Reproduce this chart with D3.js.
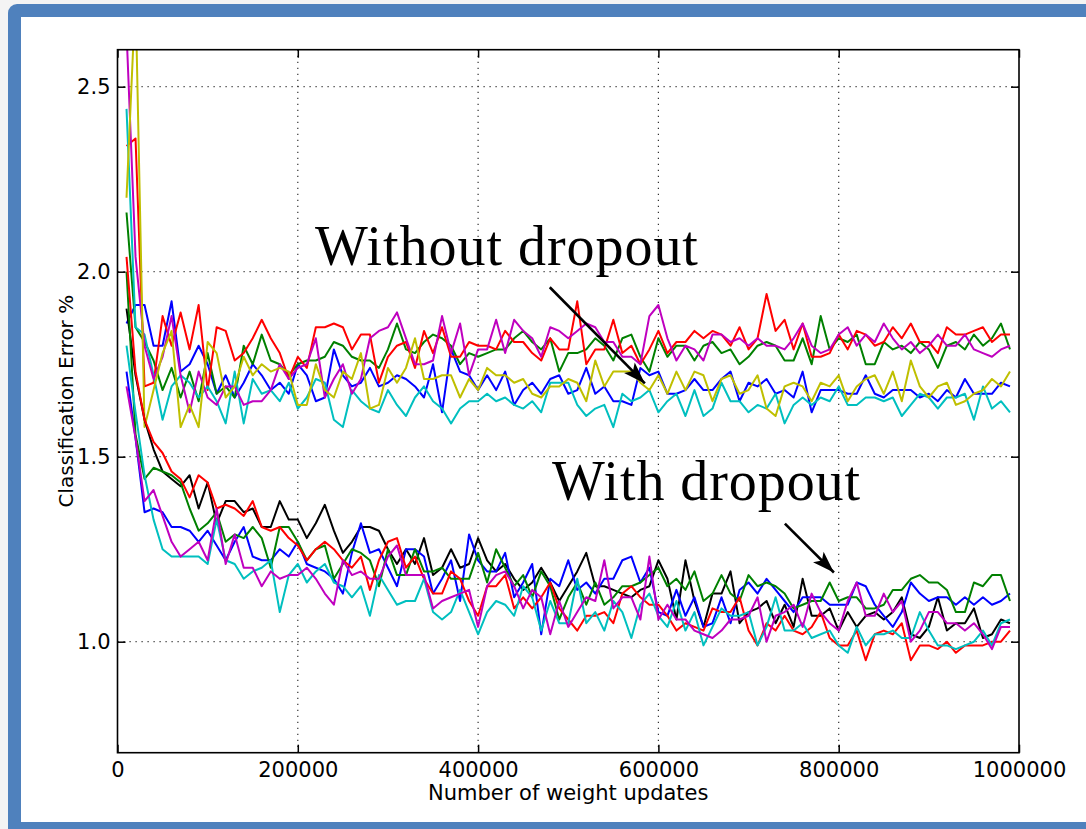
<!DOCTYPE html>
<html>
<head>
<meta charset="utf-8">
<script src="https://cdn.jsdelivr.net/npm/d3@7"></script>
<style>
  body { margin: 0; background: #f4f4f4; }
  svg { display: block; }
</style>
</head>
<body>
<svg id="chart" width="1086" height="829"></svg>
<script>
// error curves, one value every 10000 weight updates (10000 .. 990000)
const step = 10000;
const xTicks = [0, 200000, 400000, 600000, 800000, 1000000];
const yTicks = [1.0, 1.5, 2.0, 2.5];

// without dropout
const blueA = [1.86,1.91,1.91,1.80,1.80,1.92,1.73,1.75,1.80,1.75,
  1.67,1.72,1.66,1.70,1.75,1.72,1.68,1.70,1.67,1.75,
  1.72,1.65,1.66,1.79,1.72,1.69,1.70,1.74,1.69,1.70,
  1.72,1.71,1.69,1.66,1.75,1.62,1.79,1.73,1.72,1.68,
  1.72,1.68,1.73,1.64,1.68,1.70,1.67,1.71,1.72,1.67,
  1.68,1.74,1.67,1.69,1.65,1.65,1.64,1.74,1.72,1.73,
  1.67,1.67,1.68,1.71,1.68,1.68,1.71,1.73,1.65,1.70,
  1.69,1.71,1.67,1.68,1.66,1.73,1.62,1.68,1.68,1.68,
  1.67,1.67,1.72,1.67,1.66,1.68,1.68,1.68,1.66,1.67,
  1.65,1.68,1.66,1.71,1.67,1.67,1.67,1.70,1.69];
const greenA = [2.16,1.85,1.81,1.76,1.68,1.74,1.66,1.73,1.65,1.78,
  1.67,1.69,1.66,1.80,1.75,1.83,1.76,1.75,1.72,1.75,
  1.76,1.76,1.77,1.81,1.80,1.77,1.76,1.76,1.74,1.79,
  1.86,1.79,1.78,1.81,1.83,1.82,1.80,1.75,1.78,1.77,
  1.78,1.79,1.79,1.82,1.84,1.81,1.79,1.82,1.73,1.78,
  1.78,1.79,1.82,1.80,1.76,1.82,1.83,1.77,1.73,1.82,
  1.77,1.80,1.80,1.76,1.80,1.81,1.78,1.79,1.75,1.77,
  1.80,1.81,1.80,1.76,1.76,1.82,1.75,1.88,1.79,1.82,
  1.81,1.83,1.75,1.75,1.81,1.79,1.80,1.78,1.81,1.79,
  1.74,1.80,1.81,1.79,1.83,1.80,1.82,1.86,1.79];
const redA = [2.34,2.36,1.69,1.70,1.88,1.80,1.89,1.79,1.91,1.68,
  1.85,1.84,1.76,1.78,1.82,1.87,1.82,1.78,1.71,1.77,
  1.74,1.85,1.85,1.86,1.85,1.79,1.83,1.83,1.70,1.77,
  1.80,1.81,1.74,1.84,1.78,1.85,1.77,1.77,1.81,1.80,
  1.80,1.79,1.84,1.81,1.81,1.78,1.76,1.82,1.79,1.79,
  1.92,1.75,1.79,1.79,1.87,1.78,1.80,1.75,1.79,1.84,
  1.78,1.81,1.81,1.84,1.82,1.84,1.83,1.80,1.85,1.79,
  1.82,1.94,1.84,1.87,1.79,1.86,1.77,1.77,1.78,1.83,
  1.79,1.84,1.83,1.80,1.81,1.85,1.82,1.86,1.81,1.81,
  1.78,1.85,1.83,1.83,1.84,1.85,1.81,1.83,1.83];
const cyanA = [2.44,1.85,1.83,1.72,1.60,1.69,1.72,1.70,1.66,1.69,
  1.65,1.59,1.73,1.59,1.71,1.67,1.68,1.65,1.70,1.63,
  1.66,1.71,1.70,1.60,1.58,1.68,1.65,1.63,1.62,1.68,
  1.64,1.61,1.66,1.69,1.65,1.63,1.59,1.63,1.65,1.65,
  1.67,1.65,1.66,1.64,1.63,1.65,1.62,1.70,1.70,1.70,
  1.64,1.61,1.63,1.64,1.58,1.67,1.65,1.66,1.68,1.62,
  1.65,1.67,1.61,1.68,1.61,1.63,1.70,1.65,1.65,1.62,
  1.64,1.63,1.67,1.59,1.64,1.66,1.64,1.66,1.65,1.69,
  1.64,1.64,1.66,1.66,1.65,1.66,1.61,1.64,1.67,1.66,
  1.63,1.66,1.66,1.67,1.60,1.69,1.63,1.65,1.62];
const magentaA = [2.65,2.04,1.80,1.71,1.77,1.88,1.72,1.62,1.73,1.66,
  1.64,1.69,1.69,1.64,1.65,1.65,1.68,1.75,1.71,1.74,
  1.75,1.82,1.66,1.71,1.75,1.67,1.71,1.82,1.84,1.85,
  1.89,1.82,1.75,1.75,1.76,1.88,1.78,1.86,1.72,1.79,
  1.79,1.87,1.78,1.87,1.84,1.82,1.77,1.85,1.84,1.82,
  1.84,1.86,1.85,1.81,1.81,1.77,1.77,1.75,1.88,1.91,
  1.82,1.76,1.80,1.79,1.76,1.83,1.83,1.81,1.82,1.80,
  1.82,1.80,1.80,1.79,1.82,1.86,1.80,1.78,1.79,1.83,
  1.85,1.80,1.83,1.81,1.86,1.82,1.79,1.81,1.78,1.80,
  1.83,1.80,1.80,1.83,1.79,1.78,1.77,1.79,1.80];
const yellowA = [2.20,2.75,1.58,1.68,1.78,1.84,1.58,1.64,1.58,1.81,
  1.78,1.66,1.69,1.77,1.72,1.75,1.73,1.74,1.73,1.64,
  1.64,1.75,1.68,1.66,1.73,1.71,1.78,1.63,1.64,1.74,
  1.70,1.74,1.82,1.71,1.71,1.72,1.72,1.66,1.71,1.68,
  1.74,1.72,1.72,1.70,1.71,1.67,1.66,1.69,1.69,1.71,
  1.70,1.65,1.76,1.69,1.73,1.73,1.73,1.70,1.68,1.72,
  1.67,1.73,1.68,1.73,1.72,1.65,1.71,1.72,1.67,1.68,
  1.72,1.63,1.61,1.69,1.70,1.69,1.65,1.70,1.69,1.72,
  1.65,1.69,1.71,1.72,1.67,1.73,1.65,1.76,1.69,1.66,
  1.69,1.70,1.64,1.65,1.67,1.68,1.71,1.69,1.73];

// with dropout
const blackB = [1.90,1.72,1.60,1.52,1.46,1.44,1.42,1.45,1.36,1.43,
  1.32,1.38,1.38,1.35,1.36,1.31,1.31,1.38,1.33,1.33,
  1.28,1.32,1.37,1.30,1.24,1.27,1.31,1.31,1.30,1.25,
  1.21,1.25,1.21,1.28,1.18,1.20,1.25,1.20,1.21,1.28,
  1.22,1.19,1.21,1.17,1.14,1.16,1.20,1.16,1.11,1.15,
  1.19,1.24,1.15,1.15,1.14,1.13,1.12,1.14,1.15,1.22,
  1.17,1.06,1.22,1.11,1.04,1.13,1.13,1.19,1.05,1.08,
  1.09,1.11,1.05,1.10,1.04,1.17,1.07,1.07,1.09,1.03,
  1.08,1.04,1.07,1.08,1.06,1.08,1.12,1.02,1.01,1.04,
  1.12,1.03,1.05,1.05,1.09,1.01,1.02,1.06,1.05];
const blueB = [1.73,1.55,1.35,1.36,1.35,1.31,1.31,1.30,1.27,1.30,
  1.26,1.22,1.27,1.31,1.23,1.22,1.22,1.25,1.23,1.27,
  1.21,1.20,1.19,1.17,1.13,1.24,1.32,1.24,1.25,1.20,
  1.15,1.25,1.25,1.23,1.13,1.17,1.22,1.11,1.29,1.22,
  1.19,1.19,1.24,1.12,1.16,1.21,1.02,1.17,1.15,1.22,
  1.14,1.16,1.13,1.17,1.17,1.22,1.23,1.16,1.20,1.08,
  1.07,1.14,1.07,1.12,1.04,1.05,1.12,1.05,1.14,1.16,
  1.13,1.17,1.14,1.11,1.08,1.12,1.12,1.12,1.10,1.10,
  1.10,1.16,1.15,1.10,1.07,1.04,1.08,1.16,1.13,1.11,
  1.12,1.12,1.10,1.12,1.10,1.12,1.10,1.11,1.13];
const greenB = [2.00,1.56,1.44,1.47,1.46,1.45,1.43,1.36,1.30,1.32,
  1.35,1.27,1.29,1.28,1.31,1.28,1.20,1.31,1.31,1.27,
  1.22,1.25,1.26,1.17,1.21,1.25,1.24,1.22,1.15,1.25,
  1.18,1.18,1.25,1.19,1.19,1.20,1.17,1.17,1.17,1.24,
  1.16,1.25,1.20,1.15,1.18,1.12,1.19,1.15,1.06,1.12,
  1.16,1.10,1.16,1.10,1.12,1.15,1.15,1.16,1.18,1.20,
  1.15,1.17,1.14,1.19,1.11,1.13,1.18,1.13,1.11,1.18,
  1.15,1.16,1.15,1.13,1.09,1.10,1.11,1.11,1.16,1.11,
  1.12,1.12,1.09,1.09,1.10,1.14,1.14,1.17,1.18,1.16,
  1.16,1.14,1.08,1.08,1.16,1.15,1.18,1.18,1.11];
const redB = [2.04,1.73,1.60,1.54,1.51,1.46,1.44,1.39,1.45,1.43,
  1.36,1.37,1.36,1.34,1.38,1.31,1.30,1.31,1.28,1.26,
  1.22,1.25,1.27,1.25,1.22,1.20,1.23,1.14,1.22,1.27,
  1.28,1.20,1.23,1.17,1.13,1.13,1.19,1.17,1.11,1.07,
  1.15,1.15,1.18,1.09,1.12,1.09,1.12,1.16,1.09,1.06,
  1.03,1.07,1.07,1.08,1.05,1.13,1.15,1.12,1.10,1.10,
  1.07,1.03,1.05,1.04,1.03,1.09,1.08,1.08,1.12,1.03,
  0.99,1.05,1.03,1.07,1.03,1.02,1.04,1.08,1.01,0.99,
  0.99,1.03,0.95,1.02,1.03,1.02,1.05,0.95,0.99,0.99,
  0.98,1.00,0.97,0.99,0.99,0.99,1.00,1.00,1.03];
const cyanB = [1.80,1.62,1.45,1.33,1.25,1.23,1.23,1.23,1.23,1.21,
  1.33,1.22,1.21,1.17,1.19,1.20,1.22,1.08,1.18,1.21,
  1.16,1.19,1.21,1.16,1.15,1.12,1.15,1.07,1.18,1.14,
  1.10,1.11,1.11,1.17,1.08,1.06,1.08,1.14,1.08,1.02,
  1.08,1.11,1.10,1.07,1.15,1.12,1.03,1.11,1.05,1.05,
  1.17,1.05,1.08,1.03,1.11,1.08,1.01,1.10,1.13,1.07,
  1.04,1.11,1.03,1.08,0.99,1.04,1.09,1.07,1.07,1.08,
  0.99,1.04,1.12,1.03,1.03,1.05,1.01,1.02,1.03,0.99,
  0.97,1.04,0.99,1.02,1.02,1.03,1.01,1.01,1.08,1.03,
  0.99,0.99,0.98,0.99,1.00,1.03,0.99,1.05,1.06];
const magentaB = [1.69,1.55,1.38,1.41,1.34,1.27,1.23,1.25,1.27,1.22,
  1.36,1.21,1.29,1.20,1.20,1.15,1.19,1.17,1.18,1.18,
  1.20,1.17,1.13,1.10,1.22,1.18,1.19,1.17,1.17,1.23,
  1.26,1.18,1.18,1.18,1.09,1.11,1.12,1.13,1.14,1.04,
  1.15,1.18,1.19,1.15,1.09,1.14,1.12,1.02,1.11,1.04,
  1.08,1.12,1.11,1.22,1.09,1.12,1.12,1.06,1.23,1.06,
  1.10,1.06,1.06,1.03,1.02,1.01,1.03,1.06,1.06,1.07,
  1.12,1.00,1.07,1.08,1.10,1.04,1.13,1.08,1.05,1.03,
  1.11,1.16,1.07,1.07,1.13,1.08,1.11,1.00,1.03,1.08,
  1.08,1.05,1.05,1.03,1.05,1.02,0.98,1.04,1.04];

// plotting order follows the matplotlib colour cycle b g r c m y k
const series = [
  {values: blueA, color: '#0000ff'},
  {values: greenA, color: '#008000'},
  {values: redA, color: '#ff0000'},
  {values: cyanA, color: '#00bfbf'},
  {values: magentaA, color: '#bf00bf'},
  {values: yellowA, color: '#bfbf00'},
  {values: blackB, color: '#000000'},
  {values: blueB, color: '#0000ff'},
  {values: greenB, color: '#008000'},
  {values: redB, color: '#ff0000'},
  {values: cyanB, color: '#00bfbf'},
  {values: magentaB, color: '#bf00bf'}
];

buildChart();

function buildChart() {
    const svg = d3.select('#chart');

    // blue slide frame
    svg.append('rect')
        .attr('x', 8).attr('y', 4)
        .attr('width', 1200).attr('height', 900)
        .attr('rx', 9)
        .attr('fill', '#4f81bd');
    svg.append('rect')
        .attr('x', 21).attr('y', 17)
        .attr('width', 1100).attr('height', 805)
        .attr('fill', '#ffffff');

    let margin = {top: 49.7, left: 117.5};
    let width = 1019 - margin.left;
    let height = 752.7 - margin.top;

    let chart = svg.append('g')
        .attr('transform', `translate(${margin.left}, ${margin.top})`);

    let x = d3.scaleLinear().domain([0, 1000000]).range([0, width]);
    let y = d3.scaleLinear().domain([0.7, 2.6]).range([height, 0]);

    chart.append('clipPath').attr('id', 'clip')
        .append('rect').attr('width', width).attr('height', height);

    // dotted grid
    let grid = chart.append('g')
        .attr('stroke', '#333')
        .attr('stroke-width', 1.2)
        .attr('stroke-dasharray', '1.2,4.8');
    grid.selectAll('.gx')
        .data(xTicks.slice(1, -1))
        .enter().append('line')
        .attr('x1', d => x(d)).attr('x2', d => x(d))
        .attr('y1', 0).attr('y2', height);
    grid.selectAll('.gy')
        .data(yTicks)
        .enter().append('line')
        .attr('x1', 0).attr('x2', width)
        .attr('y1', d => y(d)).attr('y2', d => y(d));

    // the curves
    let line = d3.line()
        .x((d, i) => x((i + 1) * step))
        .y(d => y(d));

    chart.append('g')
        .attr('clip-path', 'url(#clip)')
        .selectAll('path')
        .data(series)
        .enter()
            .append('path')
            .attr('d', d => line(d.values))
            .attr('fill', 'none')
            .attr('stroke', d => d.color)
            .attr('stroke-width', 2)
            .attr('stroke-linejoin', 'round');

    // axes, ticks pointing inwards on all four sides
    let font = "'DejaVu Sans', sans-serif";

    let yAxis = chart.append('g')
        .call(d3.axisLeft(y).tickValues(yTicks).tickSize(-8).tickPadding(7).tickFormat(d3.format('.1f')));
    let xAxis = chart.append('g')
        .attr('transform', `translate(0, ${height})`)
        .call(d3.axisBottom(x).tickValues(xTicks).tickSize(-8).tickPadding(9).tickFormat(d3.format('d')));
    let topAxis = chart.append('g')
        .call(d3.axisTop(x).tickValues(xTicks).tickSize(-8).tickFormat(''));
    let rightAxis = chart.append('g')
        .attr('transform', `translate(${width}, 0)`)
        .call(d3.axisRight(y).tickValues(yTicks).tickSize(-8).tickFormat(''));

    [yAxis, xAxis, topAxis, rightAxis].forEach(a => {
        a.select('.domain').remove();
        a.selectAll('.tick line').attr('stroke', '#000').attr('stroke-width', 1.5);
        a.selectAll('text')
            .style('font-family', font)
            .style('font-size', '21px')
            .attr('fill', '#000');
    });

    chart.append('rect')
        .attr('width', width).attr('height', height)
        .attr('fill', 'none')
        .attr('stroke', '#000')
        .attr('stroke-width', 1.6);

    // axis titles
    chart.append('text')
        .attr('x', width / 2)
        .attr('y', height + 47)
        .attr('text-anchor', 'middle')
        .style('font-family', font).style('font-size', '21px')
        .text('Number of weight updates');

    chart.append('text')
        .attr('transform', `translate(${73 - margin.left}, ${height / 2}) rotate(-90)`)
        .attr('text-anchor', 'middle')
        .style('font-family', font).style('font-size', '20px')
        .text('Classification Error %');

    // annotations
    let notes = [
        {text: 'Without dropout', x: 219000, y: 2.018, len: 383,
         from: [479500, 1.958], to: [585000, 1.698]},
        {text: 'With dropout', x: 482000, y: 1.382, len: 308,
         from: [740300, 1.319], to: [794700, 1.187]}
    ];

    svg.append('defs').append('marker')
        .attr('id', 'head')
        .attr('viewBox', '-24 -9 26 18')
        .attr('markerUnits', 'userSpaceOnUse')
        .attr('markerWidth', 26).attr('markerHeight', 18)
        .attr('refX', 0).attr('refY', 0)
        .attr('orient', 'auto')
        .append('path')
        .attr('d', 'M0,0 L-22,-7.5 L-17,0 L-22,7.5 Z')
        .attr('fill', '#000');

    let ann = chart.append('g');
    ann.selectAll('text')
        .data(notes)
        .enter().append('text')
        .attr('x', d => x(d.x))
        .attr('y', d => y(d.y))
        .attr('textLength', d => d.len)
        .style('font-family', "'Liberation Serif', serif")
        .style('font-size', '56px')
        .text(d => d.text);

    ann.selectAll('line')
        .data(notes)
        .enter().append('line')
        .attr('x1', d => x(d.from[0])).attr('y1', d => y(d.from[1]))
        .attr('x2', d => x(d.to[0])).attr('y2', d => y(d.to[1]))
        .attr('stroke', '#000')
        .attr('stroke-width', 2.6)
        .attr('marker-end', 'url(#head)');
}
</script>
</body>
</html>
